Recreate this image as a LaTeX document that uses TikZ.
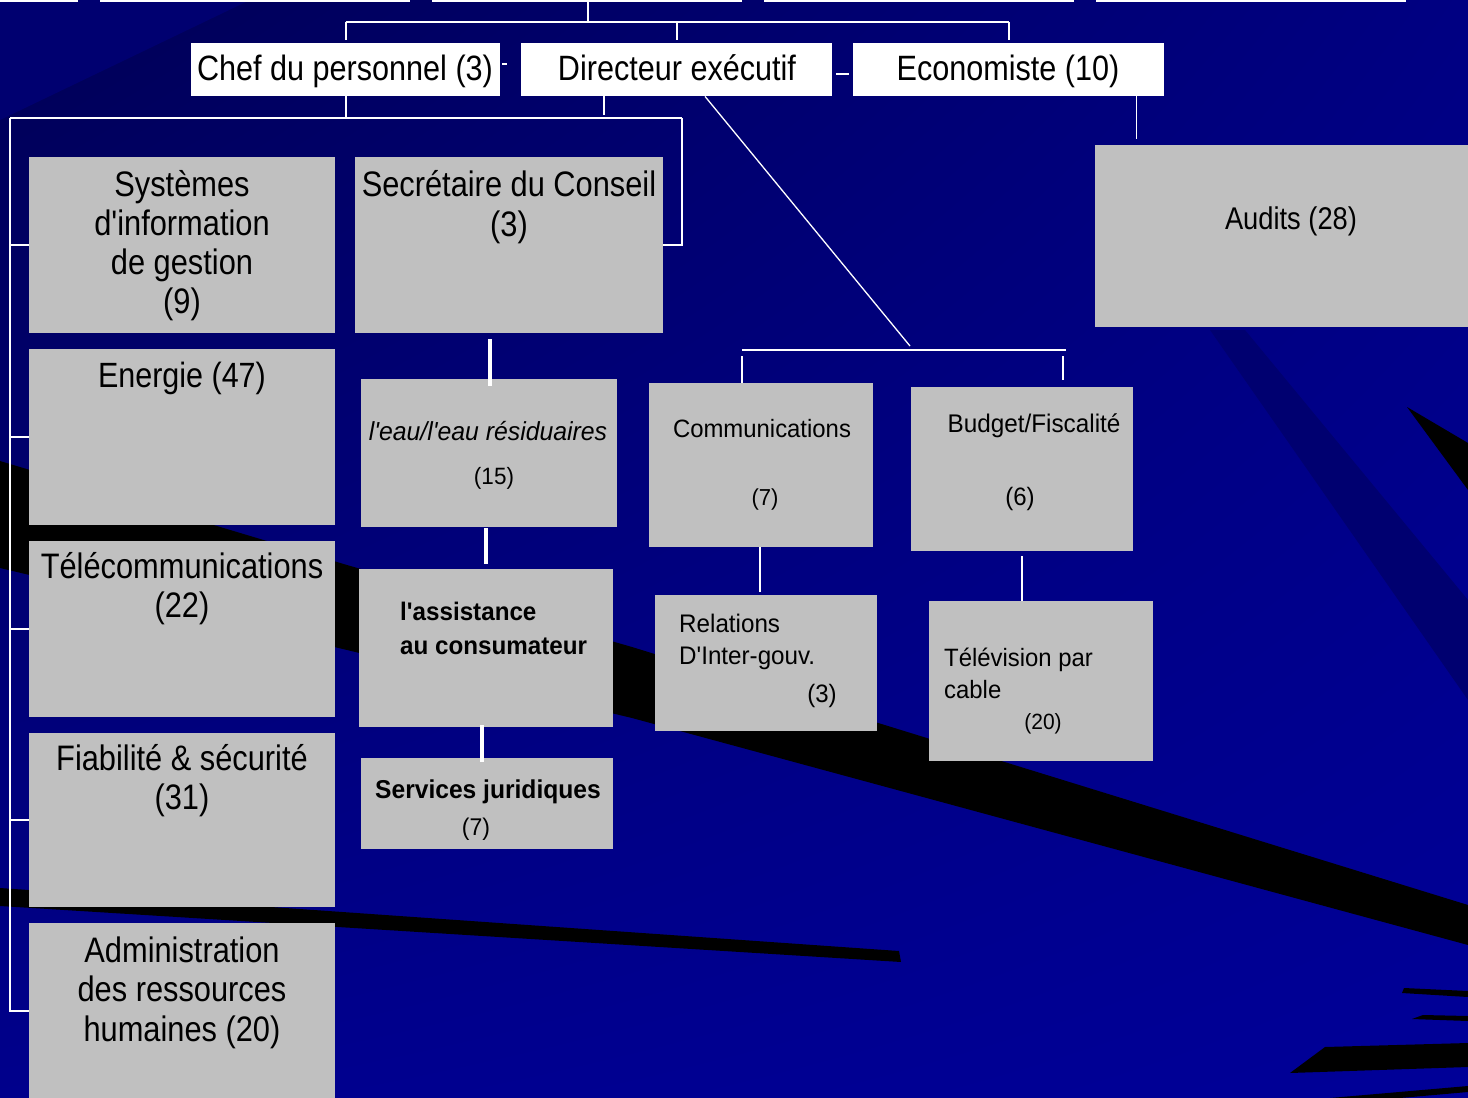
\documentclass[tikz,border=0pt]{standalone}
\usepackage{fontspec}
\setmainfont{Liberation Sans}[Ligatures=TeXOff]
\usepackage{graphicx}
\usetikzlibrary{shadings}
\definecolor{boxgray}{RGB}{192,192,192}
\definecolor{navyA}{RGB}{0,0,85}
\definecolor{navyB}{RGB}{0,0,130}
\definecolor{navyC}{RGB}{0,0,140}
\definecolor{navyD}{RGB}{0,0,152}
\definecolor{navyDark}{RGB}{0,0,112}
\newcommand\ctext[4]{\scalebox{1}[#1]{\fontsize{#2pt}{#3pt}\selectfont\begin{tabular}[t]{@{}c@{}}#4\end{tabular}}}
\newcommand\ltext[4]{\scalebox{1}[#1]{\fontsize{#2pt}{#3pt}\selectfont\begin{tabular}[t]{@{}l@{}}#4\end{tabular}}}
\begin{document}
\begin{tikzpicture}[x=1pt,y=-1pt,
  conn/.style={draw=white, line width=1.6pt},
  thickconn/.style={draw=white, line width=4pt},
  wbox/.style={fill=white, inner sep=0pt, anchor=north west},
  gbox/.style={fill=boxgray, inner sep=0pt, anchor=north west},
  lab/.style={inner sep=0pt, text=black},
  streak/.style={fill=black},
  darkstreak/.style={fill=navyDark}]
\useasboundingbox (0,0) rectangle (1468,1098);
% background
\shade[upper left=navyA, upper right=navyB, lower left=navyC, lower right=navyD] (0,0) rectangle (1468,1098);
\fill[darkstreak] (1210,330) -- (1245,330) -- (1468,600) -- (1468,700) -- cycle;
\fill[darkstreak] (0,0) -- (250,0) -- (0,120) -- cycle;
% black streaks
\fill[streak] (0,461) -- (347,565) -- (632,647) -- (1468,905) -- (1468,945) -- (632,718) -- (347,650) -- (0,568) -- cycle;
\fill[streak] (0,888) -- (899,951) -- (901,962) -- (0,906) -- cycle;
\fill[streak] (1407,407) -- (1468,443) -- (1468,490) -- cycle;
\fill[streak] (1404,988) -- (1468,991) -- (1468,997) -- (1402,993) -- cycle;
\fill[streak] (1423,1015) -- (1468,1016) -- (1468,1021) -- (1412,1019) -- cycle;
\fill[streak] (1325,1047) -- (1468,1043) -- (1468,1067) -- (1290,1073) -- cycle;
\fill[streak] (1330,1098) -- (1468,1086) -- (1468,1092) -- (1400,1098) -- cycle;
% white edges at the top
\foreach \a/\b in {0/78,100/410,432/742,764/1074,1096/1406}
  \draw[white, line width=2.5pt] (\a,1) -- (\b,1);
% boxes
\node[wbox, minimum width=309pt, minimum height=53pt] (chef) at (191,43) {};
\node[wbox, minimum width=311pt, minimum height=53pt] (dir) at (521,43) {};
\node[wbox, minimum width=311pt, minimum height=53pt] (eco) at (853,43) {};
\node[gbox, minimum width=373pt, minimum height=182pt] (aud) at (1095,145) {};
\node[gbox, minimum width=306pt, minimum height=176pt] (sys) at (29,157) {};
\node[gbox, minimum width=306pt, minimum height=176pt] (ene) at (29,349) {};
\node[gbox, minimum width=306pt, minimum height=176pt] (tel) at (29,541) {};
\node[gbox, minimum width=306pt, minimum height=174pt] (fia) at (29,733) {};
\node[gbox, minimum width=306pt, minimum height=176pt] (adm) at (29,923) {};
\node[gbox, minimum width=308pt, minimum height=176pt] (sec) at (355,157) {};
\node[gbox, minimum width=256pt, minimum height=148pt] (eau) at (361,379) {};
\node[gbox, minimum width=254pt, minimum height=158pt] (ass) at (359,569) {};
\node[gbox, minimum width=252pt, minimum height=91pt] (jur) at (361,758) {};
\node[gbox, minimum width=224pt, minimum height=164pt] (com) at (649,383) {};
\node[gbox, minimum width=222pt, minimum height=164pt] (bud) at (911,387) {};
\node[gbox, minimum width=222pt, minimum height=136pt] (rel) at (655,595) {};
\node[gbox, minimum width=224pt, minimum height=160pt] (tv) at (929,601) {};
% connectors
\coordinate (top) at (588,0);
\coordinate (bus0) at (588,22);
\draw[conn] (top) -- (bus0);
\draw[conn] (chef.north |- bus0) -- (eco.north |- bus0);
\draw[conn] (chef.north |- bus0) -- ([yshift=3pt]chef.north);
\draw[conn] (dir.north |- bus0) -- ([yshift=3pt]dir.north);
\draw[conn] (eco.north |- bus0) -- ([yshift=3pt]eco.north);
\draw[conn] (502,64) -- (507,64);
\draw[conn] (836,74) -- (849,74);
\coordinate (lbus) at (10,118);
\coordinate (rbus) at (682,118);
\draw[conn] (chef.south) -- (chef.south |- lbus);
\draw[conn] (lbus) -- (rbus);
\draw[conn] (rbus) |- (sec.east);
\draw[conn] (lbus) |- (adm.west);
\foreach \b in {sys,ene,tel,fia} \draw[conn] (lbus |- \b.west) -- (\b.west);
\draw[conn] ([xshift=83pt]dir.south west) -- ++(0,19);
\coordinate (mb) at (910,346);
\draw[conn, line width=1.3pt] ([xshift=184pt]dir.south west) -- (mb);
\coordinate (m1) at (742,350);
\coordinate (m2) at (1066,350);
\draw[conn] (m1) -- (m2);
\draw[conn] ([yshift=-6pt]m1) -- (m1 |- com.north);
\draw[conn] ([xshift=-3pt,yshift=-6pt]m2) -- ++(0,24);
\draw[conn] ([xshift=-28pt]eco.south east) -- ++(0,43);
\draw[thickconn] (sec.south -| 490,0) ++(0,6) -- ++(0,47);
\draw[thickconn] (eau.south -| 486,0) ++(0,1) -- ++(0,36);
\draw[thickconn] (ass.south -| 482,0) ++(0,-2) -- ++(0,37);
\draw[conn] (com.south -| 760,0) -- ++(0,45);
\draw[conn] (bud.south -| 1022,0) ++(0,5) -- ++(0,45);
% labels
\node[lab, anchor=base] (chefT) at (345,80) {\ctext{1.15}{30.6}{30}{Chef du personnel (3)}};
\node[lab, anchor=base] (dirT) at (677,80) {\ctext{1.15}{30.6}{30}{Directeur exécutif}};
\node[lab, anchor=base] (ecoT) at (1008,80) {\ctext{1.15}{30.6}{30}{Economiste (10)}};
\node[lab, anchor=base] (audT) at (1291,229) {\ctext{1.15}{27.3}{30}{Audits (28)}};
\node[lab, anchor=base] (sysT) at (182,196) {\ctext{1.15}{30.8}{34.2}{Systèmes\\d'information\\de gestion\\(9)}};
\node[lab, anchor=base] (eneT) at (182,387) {\ctext{1.15}{30.5}{34.2}{Energie (47)}};
\node[lab, anchor=base] (telT) at (182,578) {\ctext{1.15}{30.8}{34.5}{Télécommunications\\(22)}};
\node[lab, anchor=base] (fiaT) at (182,770) {\ctext{1.15}{30.8}{34.5}{Fiabilité \& sécurité\\(31)}};
\node[lab, anchor=base] (admT) at (182,962) {\ctext{1.15}{30.8}{34.5}{Administration\\des ressources\\humaines (20)}};
\node[lab, anchor=base] (secT) at (509,196) {\ctext{1.15}{30.8}{35.5}{Secrétaire du Conseil\\(3)}};
\node[lab, anchor=base] (eauT) at (488,440) {\ctext{1.05}{24.8}{30}{\itshape l'eau/l'eau résiduaires}};
\node[lab, anchor=base] (eauN) at (494,484) {\ctext{1.05}{22.5}{30}{(15)}};
\node[lab, anchor=base west] (assT) at (400,620) {\ltext{1.05}{24.2}{32.4}{\bfseries l'assistance\\\bfseries au consumateur}};
\node[lab, anchor=base] (jurT) at (488,798) {\ctext{1.05}{24.6}{30}{\bfseries Services juridiques}};
\node[lab, anchor=base] (jurN) at (476,835) {\ctext{1.05}{23}{30}{(7)}};
\node[lab, anchor=base] (comT) at (762,437) {\ctext{1.05}{23.9}{30}{Communications}};
\node[lab, anchor=base] (comN) at (765,505) {\ctext{1.05}{22}{30}{(7)}};
\node[lab, anchor=base west] (relT) at (679,632) {\ltext{1.05}{24.2}{30.5}{Relations\\D'Inter-gouv.}};
\node[lab, anchor=base] (relN) at (822,702) {\ctext{1.05}{24}{30}{(3)}};
\node[lab, anchor=base] (budT) at (1034,432) {\ctext{1.05}{24.3}{30}{Budget/Fiscalité}};
\node[lab, anchor=base] (budN) at (1020,505) {\ctext{1.05}{24}{30}{(6)}};
\node[lab, anchor=base west] (tvT) at (944,666) {\ltext{1.05}{23.9}{30.5}{Télévision par\\cable}};
\node[lab, anchor=base] (tvN) at (1043,729) {\ctext{1.05}{21}{30}{(20)}};
\end{tikzpicture}
\end{document}
